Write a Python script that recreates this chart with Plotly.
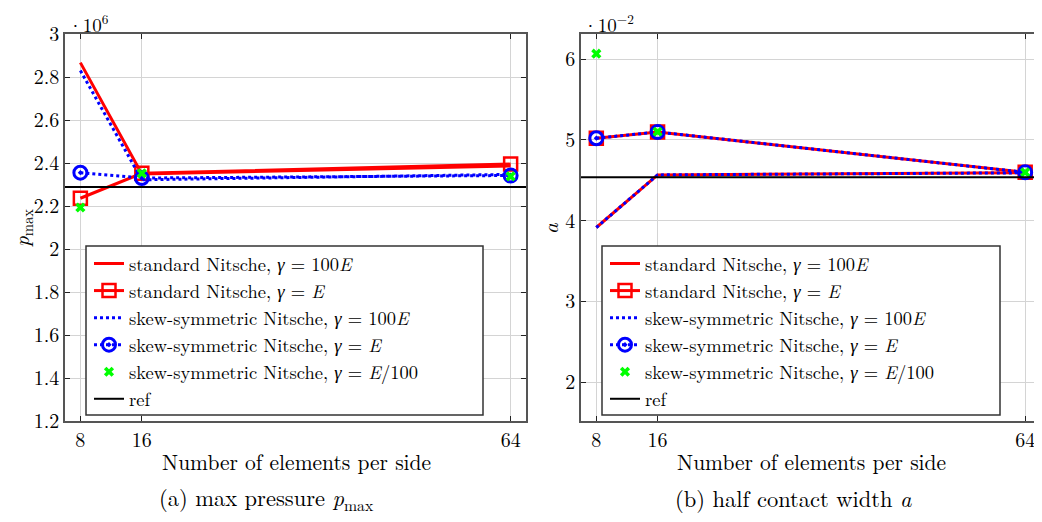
import plotly.graph_objects as go

# ---------------- data ----------------
n_elem = [8, 16, 64]
x_range = [6, 66]

# (a) max pressure, in units of 1e6
p_std_100E = [2.867, 2.349, 2.386]
p_std_E = [2.236, 2.352, 2.395]
p_skew_100E = [2.830, 2.322, 2.347]
p_skew_E = [2.355, 2.330, 2.342]
p_skew_E100 = [2.193, 2.352, 2.338]
p_ref = 2.288

# (b) half contact width, in units of 1e-2
a_std_100E = [3.915, 4.566, 4.592]
a_std_E = [5.020, 5.097, 4.598]
a_skew_100E = [3.915, 4.566, 4.592]
a_skew_E = [5.020, 5.097, 4.598]
a_skew_E100 = [6.066, 5.100, 4.598]
a_ref = 4.536

p_ticks = [1.2, 1.4, 1.6, 1.8, 2.0, 2.2, 2.4, 2.6, 2.8, 3.0]
p_ticktext = ["1.2", "1.4", "1.6", "1.8", "2", "2.2", "2.4", "2.6", "2.8", "3"]
a_ticks = [2, 3, 4, 5, 6]
a_ticktext = ["2", "3", "4", "5", "6"]

labels = [
    "standard Nitsche, <i>γ</i> = 100<i>E</i>",
    "standard Nitsche, <i>γ</i> = <i>E</i>",
    "skew-symmetric Nitsche, <i>γ</i> = 100<i>E</i>",
    "skew-symmetric Nitsche, <i>γ</i> = <i>E</i>",
    "skew-symmetric Nitsche, <i>γ</i> = <i>E</i>/100",
    "ref",
]

RED = "#ff0000"
BLUE = "#0000ff"
GREEN = "#00ff00"
FONT = "Latin Modern Roman"

W, H = 1042, 522
OFF = 8  # page body margin of the browser


def px(x):
    return (x - OFF) / W


def py(y):
    return 1 - (y - OFF) / H


fig = go.Figure()


def add_panel(xa, ya, leg, s100, sE, k100, kE, kE100, ref):
    fig.add_trace(go.Scatter(x=n_elem, y=s100, mode="lines", name=labels[0],
                             line=dict(color=RED, width=3), xaxis=xa, yaxis=ya, legend=leg))
    fig.add_trace(go.Scatter(x=n_elem, y=sE, mode="lines+markers", name=labels[1],
                             line=dict(color=RED, width=3),
                             marker=dict(symbol="square-open", size=13, color=RED, line=dict(width=2.5, color=RED)),
                             xaxis=xa, yaxis=ya, legend=leg))
    fig.add_trace(go.Scatter(x=n_elem, y=k100, mode="lines", name=labels[2],
                             line=dict(color=BLUE, width=3, dash="dot"), xaxis=xa, yaxis=ya, legend=leg))
    fig.add_trace(go.Scatter(x=n_elem, y=kE, mode="lines+markers", name=labels[3],
                             line=dict(color=BLUE, width=3, dash="dot"),
                             marker=dict(symbol="circle-open-dot", size=13, color=BLUE, line=dict(width=3, color=BLUE)),
                             xaxis=xa, yaxis=ya, legend=leg))
    fig.add_trace(go.Scatter(x=n_elem, y=kE100, mode="markers", name=labels[4],
                             marker=dict(symbol="x", size=9, color=GREEN, line=dict(width=0)),
                             xaxis=xa, yaxis=ya, legend=leg))
    fig.add_trace(go.Scatter(x=x_range, y=[ref, ref], mode="lines", name=labels[5],
                             line=dict(color="black", width=2), xaxis=xa, yaxis=ya, legend=leg))


add_panel("x", "y", "legend", p_std_100E, p_std_E, p_skew_100E, p_skew_E, p_skew_E100, p_ref)
add_panel("x2", "y2", "legend2", a_std_100E, a_std_E, a_skew_100E, a_skew_E, a_skew_E100, a_ref)

ydom = [py(421), py(34)]

axis_common = dict(showline=True, linecolor="#555555", linewidth=1.5, mirror="allticks",
                   ticks="inside", ticklen=5, tickcolor="#222222", tickwidth=1.2,
                   showgrid=True, gridcolor="#d4d4d4", gridwidth=1, zeroline=False,
                   automargin=False,
                   tickfont=dict(family=FONT, size=20, color="black"))

fig.update_layout(
    template="none",
    width=W, height=H,
    margin=dict(l=0, r=0, t=0, b=0, pad=0, autoexpand=False),
    paper_bgcolor="white", plot_bgcolor="white",
    font=dict(family=FONT, color="black"),
    xaxis=dict(domain=[px(65), px(526)], range=x_range, tickvals=n_elem, anchor="y", **axis_common),
    yaxis=dict(domain=ydom, range=[1.2, 3.0], tickvals=p_ticks, ticktext=p_ticktext, anchor="x", **axis_common),
    xaxis2=dict(domain=[px(581), px(1040.5)], range=x_range, tickvals=n_elem, anchor="y2", **axis_common),
    yaxis2=dict(domain=ydom, range=[1.52, 6.31], tickvals=a_ticks, ticktext=a_ticktext, anchor="x2", **axis_common),
    legend=dict(x=px(89), y=py(245), xanchor="left", yanchor="top",
                bgcolor="rgba(0,0,0,0)", borderwidth=0, tracegroupgap=0,
                font=dict(family=FONT, size=18.5, color="black")),
    legend2=dict(x=px(605), y=py(245), xanchor="left", yanchor="top",
                 bgcolor="rgba(0,0,0,0)", borderwidth=0, tracegroupgap=0,
                 font=dict(family=FONT, size=18.5, color="black")),
    showlegend=True,
)

# legend frames
for x0, x1 in [(86, 483), (602, 1000)]:
    fig.add_shape(type="rect", xref="paper", yref="paper",
                  x0=px(x0), x1=px(x1), y0=py(415), y1=py(246),
                  fillcolor="white", line=dict(color="#333333", width=1.5), layer="above")

ann = [
    dict(x=px(66), y=py(23), text="·10<sup>6</sup>", xanchor="left", size=19),
    dict(x=px(581), y=py(23), text="·10<sup>−2</sup>", xanchor="left", size=19),
    dict(x=px(296), y=py(461), text="Number of elements per side", xanchor="center", size=21.5),
    dict(x=px(811), y=py(461), text="Number of elements per side", xanchor="center", size=21.5),
    dict(x=px(266), y=py(498), text="(a) max pressure <i>p</i><sub>max</sub>", xanchor="center", size=22.5),
    dict(x=px(793), y=py(498), text="(b) half contact width <i>a</i>", xanchor="center", size=22.5),
]
for a in ann:
    sz = a.pop("size")
    fig.add_annotation(xref="paper", yref="paper", yanchor="middle", showarrow=False,
                       font=dict(family=FONT, size=sz, color="black"), **a)

fig.add_annotation(xref="paper", yref="paper", x=px(21), y=py(228), text="<i>p</i><sub>max</sub>",
                   textangle=-90, showarrow=False, xanchor="center", yanchor="middle",
                   font=dict(family=FONT, size=21, color="black"))
fig.add_annotation(xref="paper", yref="paper", x=px(549), y=py(228), text="<i>a</i>",
                   textangle=-90, showarrow=False, xanchor="center", yanchor="middle",
                   font=dict(family=FONT, size=21, color="black"))

fig.write_html("out.html")
